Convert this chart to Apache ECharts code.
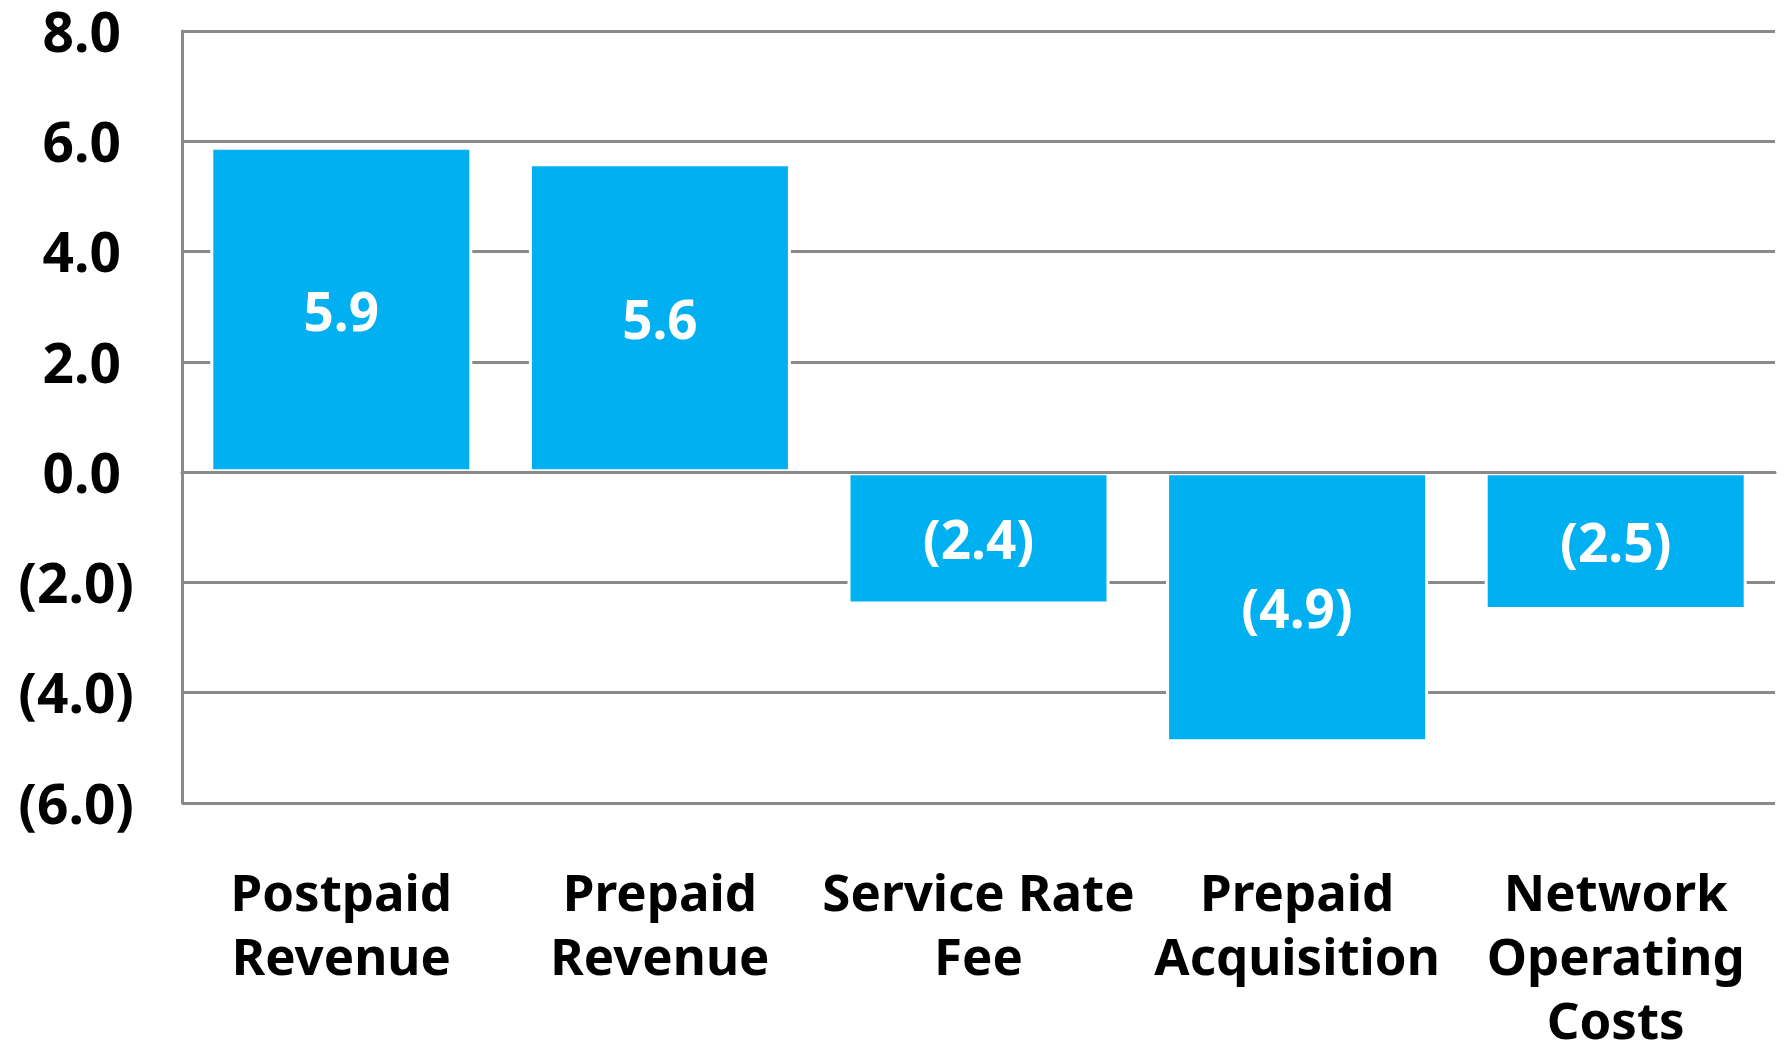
<!DOCTYPE html>
<html>
<head>
<meta charset="utf-8">
<script src="https://cdn.jsdelivr.net/npm/echarts@6/dist/echarts.min.js"></script>
<style>
  html, body { margin: 0; padding: 0; background: #fff; }
  #chart { width: 1784px; height: 1050px; }
</style>
</head>
<body>
<div id="chart"></div>
<script>
// categories and values
var categories = ['Postpaid\nRevenue', 'Prepaid\nRevenue', 'Service Rate\nFee', 'Prepaid\nAcquisition', 'Network\nOperating\nCosts'];
var values = [5.9, 5.6, -2.4, -4.9, -2.5];
var yTicks = { min: -6, max: 8, step: 2 };

var FONT = "'Noto Sans', 'Open Sans', sans-serif";
var GRID_GRAY = '#8a8a8a';

function fmt(v) {
    return v < 0 ? '(' + Math.abs(v).toFixed(1) + ')' : v.toFixed(1);
}

var myChart = echarts.init(document.getElementById('chart'));
var option = {
    animation: false,
    backgroundColor: '#fff',
    grid: {
        left: 182,
        right: 9,
        top: 31,
        bottom: 247,
        containLabel: false,
        outerBoundsMode: 'none'
    },
    xAxis: [
        {
            type: 'category',
            data: categories,
            position: 'bottom',
            axisLine: { show: false, onZero: false },
            axisTick: { show: false },
            splitLine: { show: false },
            axisLabel: {
                interval: 0,
                margin: 61,
                color: '#000',
                fontFamily: FONT,
                fontWeight: 'bold',
                fontSize: 51,
                lineHeight: 64,
                align: 'center'
            }
        },
        {
            // zero line, drawn over the bars
            type: 'category',
            data: categories,
            position: 'bottom',
            z: 10,
            axisLine: { show: true, onZero: true, lineStyle: { color: GRID_GRAY, width: 3 } },
            axisTick: { show: false },
            axisLabel: { show: false },
            splitLine: { show: false }
        }
    ],
    yAxis: {
        type: 'value',
        min: yTicks.min,
        max: yTicks.max,
        interval: yTicks.step,
        axisLine: { show: true, lineStyle: { color: GRID_GRAY, width: 3 } },
        axisTick: { show: false },
        splitLine: { show: true, lineStyle: { color: GRID_GRAY, width: 3 } },
        axisLabel: {
            margin: 48,
            padding: [10, 0, 0, 0],
            formatter: function (v) {
                return v < 0 ? '{n|' + fmt(v) + '}' : '{p|' + fmt(v) + '}';
            },
            rich: {
                n: { color: '#000', fontFamily: FONT, fontWeight: 'bold', fontSize: 55 },
                p: { color: '#000', fontFamily: FONT, fontWeight: 'bold', fontSize: 55, padding: [0, 13, 0, 0] }
            }
        }
    },
    series: [
        {
            type: 'bar',
            xAxisIndex: 0,
            data: values,
            barWidth: 262,
            itemStyle: {
                color: '#00B0F0',
                borderColor: '#fff',
                borderWidth: 3
            },
            label: {
                show: true,
                position: 'inside',
                offset: [0, 6],
                color: '#fff',
                fontFamily: FONT,
                fontWeight: 'bold',
                fontSize: 53,
                formatter: function (p) { return fmt(p.value); }
            }
        }
    ]
};
myChart.setOption(option);
</script>
</body>
</html>
